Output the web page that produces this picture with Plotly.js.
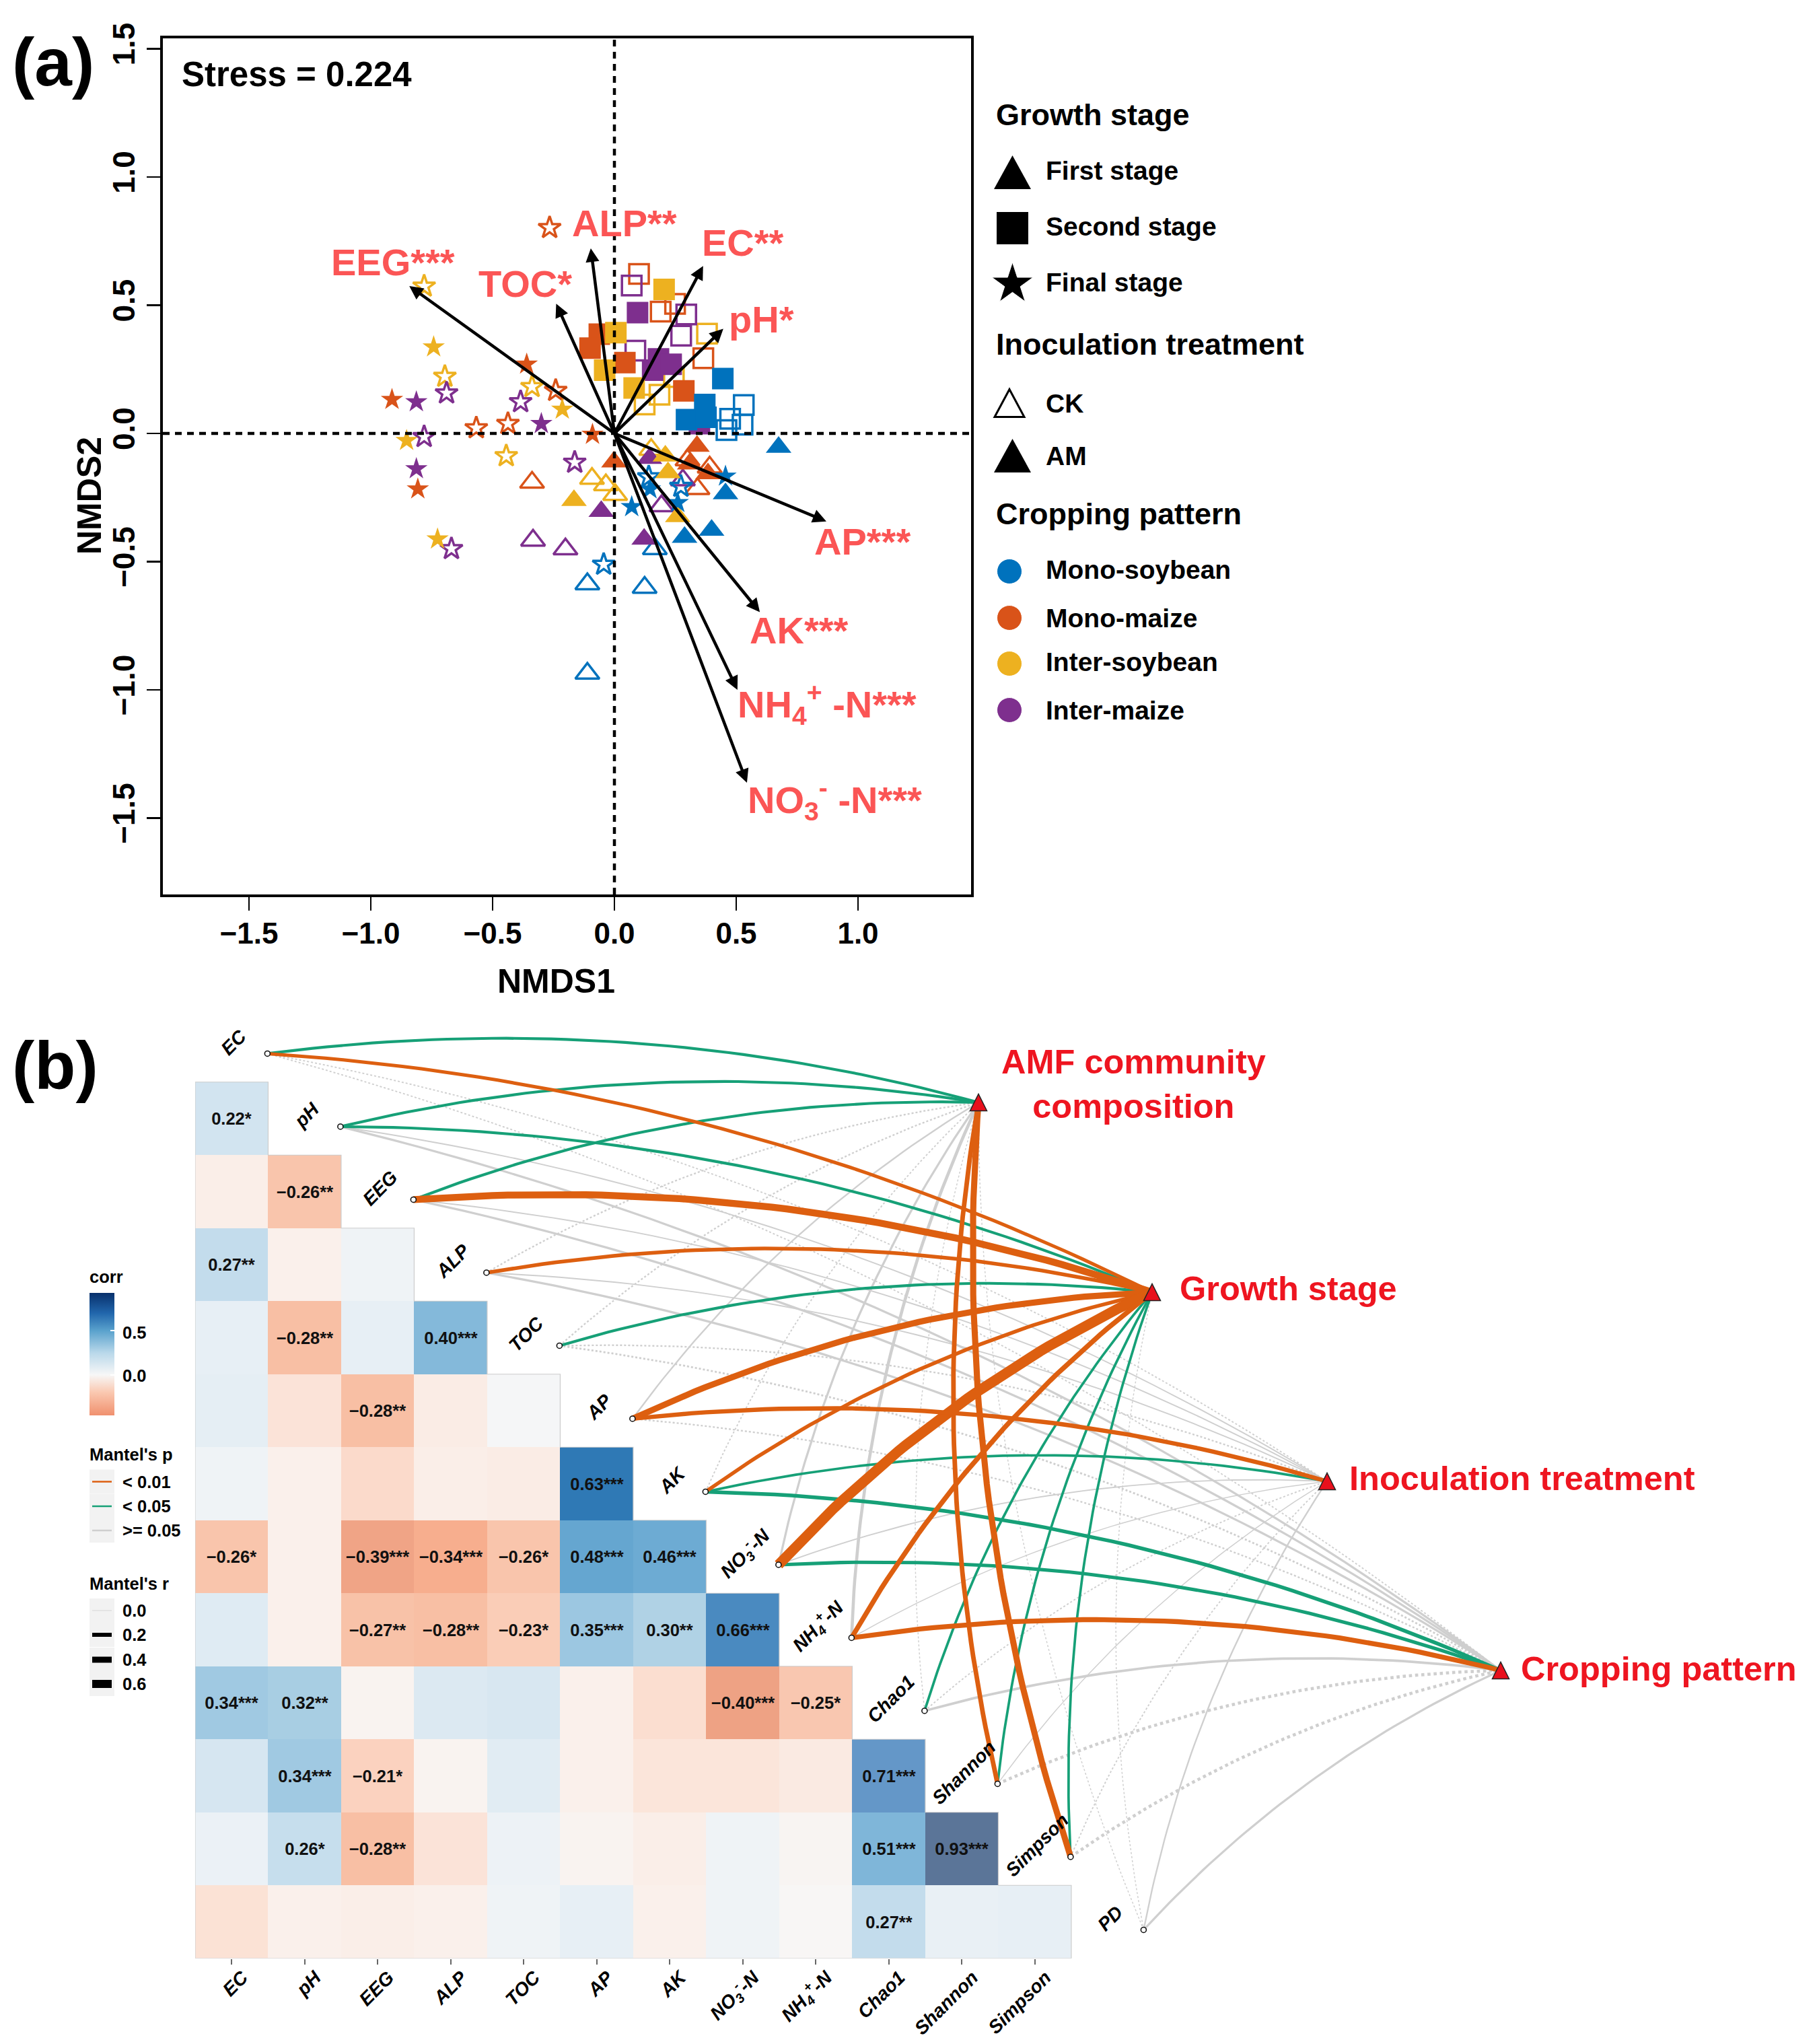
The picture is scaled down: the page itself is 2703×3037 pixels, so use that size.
<!DOCTYPE html>
<html><head><meta charset="utf-8">
<script src="https://cdn.plot.ly/plotly-3.0.1.min.js"></script>
<style>html,body{margin:0;padding:0;background:#fff}</style></head>
<body><div id="chart" style="width:2703px;height:3037px"></div>
<script>
// ---------- panel (a) data: NMDS scores [NMDS1, NMDS2] ----------
const finalAM_monoMaize  = [[-.913,.132],[-.360,.270],[-.090,-.004],[-.807,-.217]];
const finalAM_interMaize = [[-.813,.123],[-.300,.038],[-.813,-.138]];
const finalAM_interSoy   = [[-.742,.337],[-.214,.094],[-.853,-.028],[-.726,-.412]];
const finalAM_monoSoy    = [[.456,-.167],[.146,-.217],[.071,-.286],[.260,-.270]];
const finalCK_monoMaize  = [[-.266,.802],[-.241,.167],[-.437,.038],[-.567,.021]];
const finalCK_interSoy   = [[-.781,.574],[-.696,.222],[-.338,.182],[-.444,-.088]];
const finalCK_interMaize = [[-.689,.157],[-.385,.123],[-.781,-.013],[-.163,-.113],[-.669,-.450]];
const finalCK_monoSoy    = [[-.044,-.511],[.141,-.170],[.273,-.207]];
const secondAM_monoSoy    = [[.445,.214],[.371,.113],[.296,.054],[.376,.063]];
const secondAM_monoMaize  = [[-.062,.387],[-.100,.333],[.043,.276],[.285,.166]];
const secondAM_interSoy   = [[.204,.562],[.006,.393],[-.040,.247],[.081,.177]];
const secondAM_interMaize = [[.095,.471],[.181,.291],[.157,.247],[.233,.270],[.349,.038]];
const secondCK_monoMaize  = [[.101,.622],[.190,.475],[.249,.505],[.365,.293]];
const secondCK_interMaize = [[.071,.577],[.295,.464],[.274,.381],[.086,.323]];
const secondCK_interSoy   = [[.380,.389],[.185,.151],[.124,.113],[.244,.220]];
const secondCK_monoSoy    = [[.531,.111],[.475,.057],[.460,.013],[.526,.034]];
const firstAM_monoSoy    = [[.674,-.054],[.456,-.235],[.399,-.377],[.288,-.405]];
const firstAM_monoMaize  = [[-.002,-.111],[.339,-.050],[.309,-.119],[.384,-.157]];
const firstAM_interSoy   = [[.209,-.088],[.220,-.153],[.260,-.324],[-.166,-.261]];
const firstAM_interMaize = [[.144,-.097],[-.054,-.304],[.122,-.412]];
const firstCK_monoSoy    = [[-.111,-.587],[.124,-.601],[.166,-.450],[-.111,-.936]];
const firstCK_monoMaize  = [[-.338,-.191],[.341,-.216],[.300,-.104],[.391,-.132]];
const firstCK_interSoy   = [[.151,-.063],[-.092,-.176],[-.035,-.201],[.003,-.239]];
const firstCK_interMaize = [[-.334,-.417],[-.201,-.451],[.193,-.283],[.281,-.182]];

const vectorNames = ['EEG***','ALP**','EC**','TOC*','pH*','AP***','AK***','NH<sub>4</sub><sup>+</sup> -N***','NO<sub>3</sub><sup>-</sup> -N***'];
const vectorX     = [-.842,-.097,.364,-.239,.447,.870,.597,.505,.544];
const vectorY     = [.575,.722,.653,.506,.408,-.343,-.697,-1.0,-1.362];
const vectorLabelX= [-1.168,-.180,.354,-.564,.464,.816,.55,.50,.542];
const vectorLabelY= [.669,.821,.743,.585,.444,-.420,-.768,-1.055,-1.428];

// ---------- panel (b) data ----------
const envNames = ['EC','pH','EEG','ALP','TOC','AP','AK','NO<sub>3</sub><sup>-</sup>-N','NH<sub>4</sub><sup>+</sup>-N','Chao1','Shannon','Simpson','PD'];
const corr_pH      = [.22];
const corr_EEG     = [-.06,-.26];
const corr_ALP     = [.27,-.05,.04];
const corr_TOC     = [.08,-.28,.08,.40];
const corr_AP      = [.09,-.12,-.28,-.07,.01];
const corr_AK      = [.04,-.05,-.17,-.06,-.07,.63];
const corr_NO3     = [-.26,-.05,-.39,-.34,-.26,.48,.46];
const corr_NH4     = [.12,-.05,-.27,-.28,-.23,.35,.30,.66];
const corr_Chao1   = [.34,.32,-.03,.13,.15,-.05,-.15,-.40,-.25];
const corr_Shannon = [.17,.34,-.21,-.03,.11,-.05,-.11,-.11,-.08,.71];
const corr_Simpson = [.06,.26,-.28,-.12,.05,-.03,-.06,.04,-.02,.51,.93];
const corr_PD      = [-.13,-.05,-.06,-.05,.04,.08,-.05,.04,-.01,.27,.07,.08];
const sig_pH      = ['*'];
const sig_EEG     = ['','**'];
const sig_ALP     = ['**','',''];
const sig_TOC     = ['','**','','***'];
const sig_AP      = ['','','**','',''];
const sig_AK      = ['','','','','','***'];
const sig_NO3     = ['*','','***','***','*','***','***'];
const sig_NH4     = ['','','**','**','*','***','**','***'];
const sig_Chao1   = ['***','**','','','','','','***','*'];
const sig_Shannon = ['','***','*','','','','','','','***'];
const sig_Simpson = ['','*','**','','','','','','','***','***'];
const sig_PD      = ['','','','','','','','','','**','',''];
const corrRows = [corr_pH,corr_EEG,corr_ALP,corr_TOC,corr_AP,corr_AK,corr_NO3,corr_NH4,corr_Chao1,corr_Shannon,corr_Simpson,corr_PD];
const sigRows  = [sig_pH,sig_EEG,sig_ALP,sig_TOC,sig_AP,sig_AK,sig_NO3,sig_NH4,sig_Chao1,sig_Shannon,sig_Simpson,sig_PD];

const targetNames = ['AMF community<br>composition','Growth stage','Inoculation treatment','Cropping pattern'];
// Mantel r per environment variable (order of envNames); negative r is drawn dotted
const mantelR_AMF    = [.07,.07,.07,-.03,-.03,.03,-.02,.05,.08,-.01,.13,.18,-.01];
const mantelR_Growth = [.09,.07,.22,.1,.07,.18,.1,.55,.14,.06,.06,.06,-.01];
const mantelR_Inoc   = [-.02,.02,.02,.02,-.03,.12,.06,.02,.01,-.02,.01,-.02,.03];
const mantelR_Crop   = [-.02,.05,.05,.05,-.04,-.03,.1,.09,.14,.06,-.08,-.08,.05];
// Mantel p class: 0 is < 0.01, 1 is < 0.05, 2 is >= 0.05
const mantelP_AMF    = [1,1,1,2,2,2,2,2,2,2,0,0,2];
const mantelP_Growth = [0,1,0,0,1,0,0,0,0,1,1,1,2];
const mantelP_Inoc   = [2,2,2,2,2,0,1,2,2,2,2,2,2];
const mantelP_Crop   = [2,2,2,2,2,2,1,1,0,2,2,2,2];

// ---------- styles ----------
const FONT='"Liberation Sans", Arial, sans-serif';
const BLUE='#0072BD',ORANGE='#D95319',GOLD='#EDB120',PURPLE='#7E2F8E';
const LABEL_RED='#FB5555',TARGET_RED='#EE1520';
const P_COL=['#DD5F10','#16A077','#CFCFCF'];
const W=2703,H=3037;
const CELL=108.5, HX=344.2, HY=1662; // centre of first heatmap cell on the page
const gx=p=>(p-HX)/CELL, gy=p=>(p-HY)/CELL;
const targetPage=[[1454,1638],[1712,1920],[1972,2201],[2230,2482]];
const bold=(size,color='#000',extra={})=>Object.assign({family:FONT,size,color,weight:'bold'},extra);

const traces=[], shapes=[], annos=[];
const pageText=(text,x,y,size,opts={})=>annos.push(Object.assign({xref:'x3',yref:'y3',x:x-(size>=39?4:2),y,text,showarrow:false,xanchor:'left',yanchor:'middle',font:bold(size,opts.color||'#000')},opts.a||{}));
const tri=(cx,cy,w,h,fill,line,lw)=>shapes.push({type:'path',xref:'x3',yref:'y3',path:`M${cx-w/2},${cy+h/2}L${cx+w/2},${cy+h/2}L${cx},${cy-h/2}Z`,fillcolor:fill,line:{color:line,width:lw}});

// ---------- panel (a) scatter ----------
function pts(name,arr,symbol,color,size,open){
  traces.push({type:'scatter',mode:'markers',xaxis:'x',yaxis:'y',name,hoverinfo:'skip',showlegend:false,
    x:arr.map(p=>p[0]),y:arr.map(p=>p[1]),
    marker:{symbol,size,opacity:1,color:open?'rgba(0,0,0,0)':color,line:{color,width:open?3.5:0}}});
}
const T=33,S=32,ST=25;
pts('First CK soy',firstCK_monoSoy,'triangle-up',BLUE,T-2,true);
pts('First CK maize',firstCK_monoMaize,'triangle-up',ORANGE,T-2,true);
pts('First CK isoy',firstCK_interSoy,'triangle-up',GOLD,T-2,true);
pts('First CK imaize',firstCK_interMaize,'triangle-up',PURPLE,T-2,true);
pts('Second CK soy',secondCK_monoSoy,'square',BLUE,S-3,true);
pts('Second CK maize',secondCK_monoMaize,'square',ORANGE,S-3,true);
pts('Second CK isoy',secondCK_interSoy,'square',GOLD,S-3,true);
pts('Second CK imaize',secondCK_interMaize,'square',PURPLE,S-3,true);
pts('Final CK maize',finalCK_monoMaize,'star',ORANGE,ST,true);
pts('Final CK isoy',finalCK_interSoy,'star',GOLD,ST,true);
pts('Final CK imaize',finalCK_interMaize,'star',PURPLE,ST,true);
pts('Final CK soy',finalCK_monoSoy,'star',BLUE,ST,true);
pts('First AM imaize',firstAM_interMaize,'triangle-up',PURPLE,T,false);
pts('First AM maize',firstAM_monoMaize,'triangle-up',ORANGE,T,false);
pts('First AM isoy',firstAM_interSoy,'triangle-up',GOLD,T,false);
pts('First AM soy',firstAM_monoSoy,'triangle-up',BLUE,T,false);
pts('Second AM imaize',secondAM_interMaize,'square',PURPLE,S,false);
pts('Second AM maize',secondAM_monoMaize,'square',ORANGE,S,false);
pts('Second AM isoy',secondAM_interSoy,'square',GOLD,S,false);
pts('Second AM soy',secondAM_monoSoy,'square',BLUE,S,false);
pts('Final AM maize',finalAM_monoMaize,'star',ORANGE,ST,false);
pts('Final AM imaize',finalAM_interMaize,'star',PURPLE,ST,false);
pts('Final AM isoy',finalAM_interSoy,'star',GOLD,ST,false);
pts('Final AM soy',finalAM_monoSoy,'star',BLUE,ST,false);

// dashed zero lines
shapes.push({type:'line',xref:'x',yref:'y domain',x0:0,x1:0,y0:0,y1:1,line:{color:'#000',width:4.5,dash:'10px,8px'}});
shapes.push({type:'line',xref:'x domain',yref:'y',x0:0,x1:1,y0:0,y1:0,line:{color:'#000',width:4.5,dash:'10px,8px'}});

vectorNames.forEach((t,i)=>{
  annos.push({xref:'x',yref:'y',axref:'x',ayref:'y',x:vectorX[i],y:vectorY[i],ax:0,ay:0,text:'',showarrow:true,arrowhead:2,arrowsize:.9,arrowwidth:4.5,arrowcolor:'#000'});
  annos.push({xref:'x',yref:'y',x:vectorLabelX[i],y:vectorLabelY[i],text:t,showarrow:false,xanchor:'left',yanchor:'middle',font:bold(56,LABEL_RED)});
});
pageText('Stress = 0.224',272,110,51);
pageText('(a)',20,92,100);
pageText('(b)',20,1583,100);
annos.push({xref:'x3',yref:'y3',x:826,y:1458,text:'NMDS1',showarrow:false,font:bold(50)});
annos.push({xref:'x3',yref:'y3',x:133,y:737,text:'NMDS2',showarrow:false,textangle:-90,font:bold(50)});

// panel (a) legend
pageText('Growth stage',1482,170,45);
tri(1504.5,256,55,50,'#000','#000',0);
pageText('First stage',1556,253,39);
shapes.push({type:'rect',xref:'x3',yref:'y3',x0:1481,x1:1528,y0:315,y1:363,fillcolor:'#000',line:{width:0}});
pageText('Second stage',1556,336,39);
pageText('Final stage',1556,419,39);
pageText('Inoculation treatment',1482,511,45);
tri(1500,599,44,41,'#fff','#000',3);
pageText('CK',1556,599,39);
tri(1504.5,677,55,50,'#000','#000',0);
pageText('AM',1556,677,39);
pageText('Cropping pattern',1482,763,45);
const cropLabels=['Mono-soybean','Mono-maize','Inter-soybean','Inter-maize'];
const cropCols=[BLUE,ORANGE,GOLD,PURPLE];
const cropLegendY=[849,918,986,1055], cropTextY=[846,918,983,1055];
cropLabels.forEach((t,i)=>pageText(t,1556,cropTextY[i],39));
traces.push({type:'scatter',mode:'markers',xaxis:'x3',yaxis:'y3',hoverinfo:'skip',showlegend:false,name:'legend keys',
  x:[1500,1500,1500,1500,1504.5],y:cropLegendY.concat([422]),
  marker:{symbol:['circle','circle','circle','circle','star'],size:[37,37,37,37,46],opacity:1,color:cropCols.concat(['#000'])}});

// ---------- panel (b) heatmap ----------
const zRows=corrRows.map(r=>{const a=new Array(12).fill(null);r.forEach((v,j)=>a[j]=v);return a;});
const textRows=corrRows.map((r,i)=>{const a=new Array(12).fill('');
  r.forEach((v,j)=>{if(sigRows[i][j])a[j]=(v<0?'\u2212':'')+Math.abs(v).toFixed(2)+sigRows[i][j];});return a;});
const ZMIN=-.46,ZMAX=.93;
const norm=v=>(v-ZMIN)/(ZMAX-ZMIN);
const cellStops=[[-.46,'#EE9070'],[-.40,'#EEA284'],[-.34,'#F7AE8E'],[-.28,'#F8BFA4'],[-.2,'#FBD5C3'],[-.1,'#FBE7DD'],[-.03,'#F9F3F0'],[0,'#F7F7F7'],[.05,'#EDF2F6'],[.1,'#E3EDF4'],[.15,'#D8E7F1'],[.22,'#D2E4F0'],[.27,'#C3DCEC'],[.30,'#B0D2E5'],[.35,'#9CC7E1'],[.40,'#84B9DA'],[.48,'#65A6D0'],[.51,'#7FB6D9'],[.63,'#2F79B5'],[.66,'#4A8AC0'],[.71,'#6497C8'],[.93,'#5B7598']];
const barStops=[[-.46,'#F0906E'],[-.2,'#FAC8B0'],[0,'#F7F7F7'],[.25,'#B9D8EA'],[.5,'#5AA2CD'],[.7,'#2166AC'],[.93,'#08306B']];
traces.push({type:'heatmap',xaxis:'x2',yaxis:'y2',x:zRows[0].map((_,j)=>j),y:zRows.map((_,i)=>i),z:zRows,text:textRows,
  texttemplate:'%{text}',textfont:bold(25.5,'#111'),zmin:ZMIN,zmax:ZMAX,showscale:false,hoverongaps:false,xgap:0,ygap:0,
  colorscale:cellStops.map(s=>[norm(s[0]),s[1]]),name:'corr'});
// staircase outline
const ox=[-.5],oy=[-.5];
for(let i=0;i<12;i++){ox.push(i+.5,i+.5);oy.push(i-.5,i+.5);}
ox.push(-.5,-.5);oy.push(11.5,-.5);
traces.push({type:'scatter',mode:'lines',xaxis:'x2',yaxis:'y2',x:ox,y:oy,hoverinfo:'skip',showlegend:false,name:'outline',line:{color:'#CCCCCC',width:1.2}});
// colour bar carrier
traces.push({type:'scatter',mode:'markers',xaxis:'x2',yaxis:'y2',x:[-50],y:[-50],hoverinfo:'skip',showlegend:false,name:'corr scale',
  marker:{color:[0],cmin:ZMIN,cmax:ZMAX,opacity:1,colorscale:barStops.map(s=>[norm(s[0]),s[1]]),showscale:true,
    colorbar:{x:133/W,xanchor:'left',xpad:0,y:1-2012/H,yanchor:'middle',ypad:0,lenmode:'pixels',len:182,thicknessmode:'pixels',thickness:37,
      outlinewidth:0,tickvals:[0,.5],showticklabels:false,ticks:'inside',ticklen:6,tickcolor:'#fff',tickwidth:2}}});
pageText('0.5',182,1980,25.5);
pageText('0.0',182,2044,25.5);

// ---------- panel (b) links ----------
const nodeX=i=>i+.49, nodeY=i=>i-.89;
function arc(i,t){
  const x0=nodeX(i),y0=nodeY(i),x1=gx(targetPage[t][0]),y1=gy(targetPage[t][1]);
  const dx=x1-x0,dy=y1-y0,k=.10;               // control point pushed to the left of travel
  const cx=(x0+x1)/2+dy*k, cy=(y0+y1)/2-dx*k;
  const xs=[],ys=[];
  for(let s=0;s<=48;s++){const u=s/48,v=1-u;xs.push(v*v*x0+2*u*v*cx+u*u*x1);ys.push(v*v*y0+2*u*v*cy+u*u*y1);}
  return [xs,ys];
}
const widthOf=r=>{r=Math.abs(r);return r<=.2?1+45*r:10+15*(r-.2);};
const allR=[mantelR_AMF,mantelR_Growth,mantelR_Inoc,mantelR_Crop], allP=[mantelP_AMF,mantelP_Growth,mantelP_Inoc,mantelP_Crop];
[2,1,0].forEach(cls=>{
  allR.forEach((rs,t)=>rs.forEach((r,i)=>{
    if(allP[t][i]!==cls)return;
    const [xs,ys]=arc(i,t);
    traces.push({type:'scatter',mode:'lines',xaxis:'x2',yaxis:'y2',x:xs,y:ys,hoverinfo:'skip',showlegend:false,name:'link',
      line:{color:P_COL[cls],width:widthOf(r),dash:r<0?'dot':'solid',shape:'linear'}});
  }));
});
traces.push({type:'scatter',mode:'markers',xaxis:'x2',yaxis:'y2',hoverinfo:'skip',showlegend:false,name:'nodes',
  x:envNames.map((_,i)=>nodeX(i)),y:envNames.map((_,i)=>nodeY(i)),
  marker:{symbol:'circle',size:8,color:'#fff',line:{color:'#111',width:1.6}}});
targetPage.forEach(p=>tri(p[0],p[1],25,25,'#E8101C','#222',1.5));
// diagonal labels
envNames.forEach((t,i)=>annos.push({xref:'x2',yref:'y2',x:i+.03,y:i-1.05,text:t,showarrow:false,textangle:-45,font:bold(28,'#000',{style:'italic'})}));
// target labels
annos.push({xref:'x3',yref:'y3',x:1684,y:1610,text:targetNames[0],showarrow:false,align:'center',font:bold(50.5,TARGET_RED)});
pageText(targetNames[1],1755,1914,50.5,{color:TARGET_RED});
pageText(targetNames[2],2007,2196,50.5,{color:TARGET_RED});
pageText(targetNames[3],2262,2479,50.5,{color:TARGET_RED});

// ---------- panel (b) legends ----------
pageText('corr',133,1897,25.5);
pageText("Mantel's p",133,2161,25.5);
const pKeysY=[2201.5,2238,2274], pKeys=['< 0.01','< 0.05','>= 0.05'];
pKeysY.forEach((y,i)=>{
  shapes.push({type:'rect',xref:'x3',yref:'y3',x0:133,x1:170,y0:y-18,y1:y+18,fillcolor:'#F2F2F2',line:{width:0}});
  shapes.push({type:'line',xref:'x3',yref:'y3',x0:137,x1:166,y0:y,y1:y,line:{color:P_COL[i],width:2.5}});
  pageText(pKeys[i],182,y,25.5);
});
pageText("Mantel's r",133,2353,25.5);
const rKeysY=[2393,2429,2466,2502], rKeys=['0.0','0.2','0.4','0.6'], rKeyW=[.7,6,9,12];
rKeysY.forEach((y,i)=>{
  shapes.push({type:'rect',xref:'x3',yref:'y3',x0:133,x1:170,y0:y-18,y1:y+18,fillcolor:'#F2F2F2',line:{width:0}});
  shapes.push({type:'line',xref:'x3',yref:'y3',x0:137,x1:166,y0:y,y1:y,line:{color:i?'#000':'#CCC',width:rKeyW[i]}});
  pageText(rKeys[i],182,y,25.5);
});

// ---------- layout ----------
const X0=242,X1=1443,Y0=56.5,Y1=1329;
const layout={
  width:W,height:H,margin:{l:0,r:0,t:0,b:0,pad:0},paper_bgcolor:'#fff',plot_bgcolor:'rgba(0,0,0,0)',showlegend:false,
  font:{family:FONT},hovermode:false,
  xaxis:{domain:[X0/W,X1/W],range:[(X0-913)/362,(X1-913)/362],tickvals:[-1.5,-1,-.5,0,.5,1],ticktext:['\u22121.5','\u22121.0','\u22120.5','0.0','0.5','1.0'],
    ticks:'outside',ticklen:20,tickwidth:2.5,tickcolor:'#000',tickfont:bold(44),ticklabelstandoff:-4,showline:true,linewidth:4,linecolor:'#000',mirror:true,showgrid:false,zeroline:false,anchor:'y'},
  yaxis:{domain:[1-Y1/H,1-Y0/H],range:[(644-Y1)/381,(644-Y0)/381],tickvals:[-1.5,-1,-.5,0,.5,1,1.5],ticktext:['\u22121.5','\u22121.0','\u22120.5','0.0','0.5','1.0','1.5'],tickangle:-90,
    ticks:'outside',ticklen:20,tickwidth:2.5,tickcolor:'#000',tickfont:bold(46),showline:true,linewidth:4,linecolor:'#000',mirror:true,showgrid:false,zeroline:false,anchor:'x'},
  xaxis2:{domain:[(HX-CELL/2)/W,1],range:[-.5,gx(W)],tickvals:envNames.slice(0,12).map((_,i)=>i),ticktext:envNames.slice(0,12),tickangle:-45,
    ticks:'outside',ticklen:8,tickwidth:2,tickcolor:'#666',tickfont:bold(28,'#000',{style:'italic'}),ticklabelstandoff:-8,ticklabelshift:16,showgrid:false,zeroline:false,showline:false,anchor:'y2'},
  yaxis2:{domain:[1-(HY+11.5*CELL)/H,1-1500/H],range:[11.5,gy(1500)],showticklabels:false,ticks:'',showgrid:false,zeroline:false,showline:false,anchor:'x2'},
  xaxis3:{domain:[0,1],range:[0,W],visible:false,fixedrange:true,anchor:'y3'},
  yaxis3:{domain:[0,1],range:[H,0],visible:false,fixedrange:true,anchor:'x3'},
  shapes,annotations:annos
};
Plotly.newPlot('chart',traces,layout,{displayModeBar:false,staticPlot:true});
</script></body></html>
